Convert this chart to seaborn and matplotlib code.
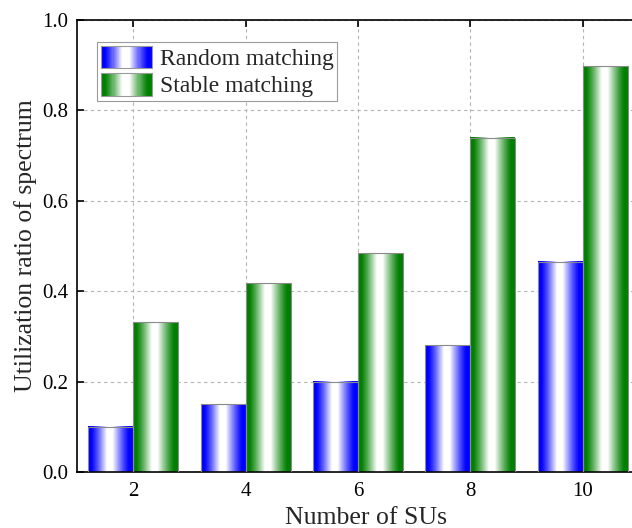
import numpy as np
import pandas as pd
import matplotlib
matplotlib.use("Agg")
import matplotlib.pyplot as plt
from matplotlib.patches import Rectangle
from matplotlib.legend_handler import HandlerBase
import seaborn as sns

# Data
num_sus = ["2", "4", "6", "8", "10"]
random_matching = [0.10, 0.15, 0.20, 0.28, 0.465]
stable_matching = [0.331, 0.418, 0.484, 0.739, 0.898]
series_names = ["Random matching", "Stable matching"]
series_colors = {"Random matching": (0.0, 0.0, 1.0),
                 "Stable matching": (0.0, 0.5, 0.0)}

df = pd.DataFrame({
    "Number of SUs": num_sus * 2,
    "value": random_matching + stable_matching,
    "series": [series_names[0]] * len(num_sus) + [series_names[1]] * len(num_sus),
})

sns.set_style("ticks")
plt.rcParams["font.family"] = ["Liberation Serif", "DejaVu Serif"]


def gradient_strip(base, n=256):
    """Horizontal cylinder-like shading: base colour at the edges, white in the middle."""
    t = np.linspace(0, 1, n)
    w = np.interp(t, [0, 0.07, 0.42, 0.55, 0.92, 1.0], [0, 0, 1, 1, 0, 0])
    w = w ** 1.2
    base = np.array(base)
    cols = base[None, :] * (1 - w[:, None]) + np.ones(3)[None, :] * w[:, None]
    return cols


class GradientHandler(HandlerBase):
    def __init__(self, base, n=48, **kw):
        super().__init__(**kw)
        self.base = base
        self.n = n

    def create_artists(self, legend, orig_handle, xdescent, ydescent,
                       width, height, fontsize, trans):
        cols = gradient_strip(self.base, self.n)
        arts = []
        dw = width / self.n
        for i, c in enumerate(cols):
            r = Rectangle((-xdescent + i * dw, -ydescent), dw * 1.05, height,
                          facecolor=c, edgecolor="none", transform=trans)
            arts.append(r)
        border = Rectangle((-xdescent, -ydescent), width, height,
                           facecolor="none", edgecolor="#9a9a9a", lw=0.8,
                           transform=trans)
        arts.append(border)
        return arts


fig = plt.figure(figsize=(6.32, 5.28), dpi=100)
# axes extends slightly past the right edge of the canvas
ax = fig.add_axes([77 / 632, 56 / 528, 562 / 632, 452 / 528])

sns.barplot(data=df, x="Number of SUs", y="value", hue="series",
            hue_order=series_names, order=num_sus,
            palette=series_colors, width=0.8, gap=0, ax=ax,
            legend=False, zorder=3)

# replace flat fills with shaded gradient images
for name, container in zip(series_names, ax.containers):
    cols = gradient_strip(series_colors[name])
    img = cols[None, :, :]
    for bar in container:
        x0 = bar.get_x()
        w = bar.get_width()
        h = bar.get_height()
        ax.imshow(img, extent=[x0, x0 + w, 0, h], aspect="auto",
                  interpolation="bilinear", zorder=2)
        bar.set_facecolor("none")
        bar.set_edgecolor("#8a8a8a")
        bar.set_linewidth(0.8)
        bar.set_zorder(3)

ax.set_xlim(-0.5, 4.5)
ax.set_ylim(0, 1.0)
ax.set_yticks([0.0, 0.2, 0.4, 0.6, 0.8, 1.0])
ax.set_yticklabels(["0.0", "0.2", "0.4", "0.6", "0.8", "1.0"])

ax.set_axisbelow(True)
ax.grid(True, axis="both", linestyle=(0, (3, 3)), color="#b4b4b4", lw=0.8)

for side in ["left", "bottom", "top", "right"]:
    ax.spines[side].set_visible(True)
    ax.spines[side].set_linewidth(1.2)
    ax.spines[side].set_color("black")

ax.tick_params(axis="both", which="major", direction="in", length=5,
               width=1.2, labelsize=15, top=True, right=True,
               colors="black")
ax.tick_params(axis="x", pad=7.5)
ax.tick_params(axis="y", pad=6.5)

ax.set_xlabel("Number of SUs", fontsize=18.5)
ax.set_ylabel("Utilization ratio of spectrum", fontsize=18.5)
ax.xaxis.set_label_coords(0.514, -0.078)
ax.yaxis.set_label_coords(-0.072, 0.5)

proxies = [Rectangle((0, 0), 1, 1) for _ in series_names]
leg = ax.legend(proxies, series_names,
                handler_map={p: GradientHandler(series_colors[n])
                             for p, n in zip(proxies, series_names)},
                loc="upper left", bbox_to_anchor=(0.0356, 0.951),
                fontsize=17, frameon=True, fancybox=False,
                edgecolor="#9a9a9a", framealpha=1.0,
                handlelength=2.2, handleheight=1.1, handletextpad=0.3,
                labelspacing=0.13, borderpad=0.15, borderaxespad=0)
leg.get_frame().set_linewidth(0.8)

fig.savefig("out.png", dpi=100)
